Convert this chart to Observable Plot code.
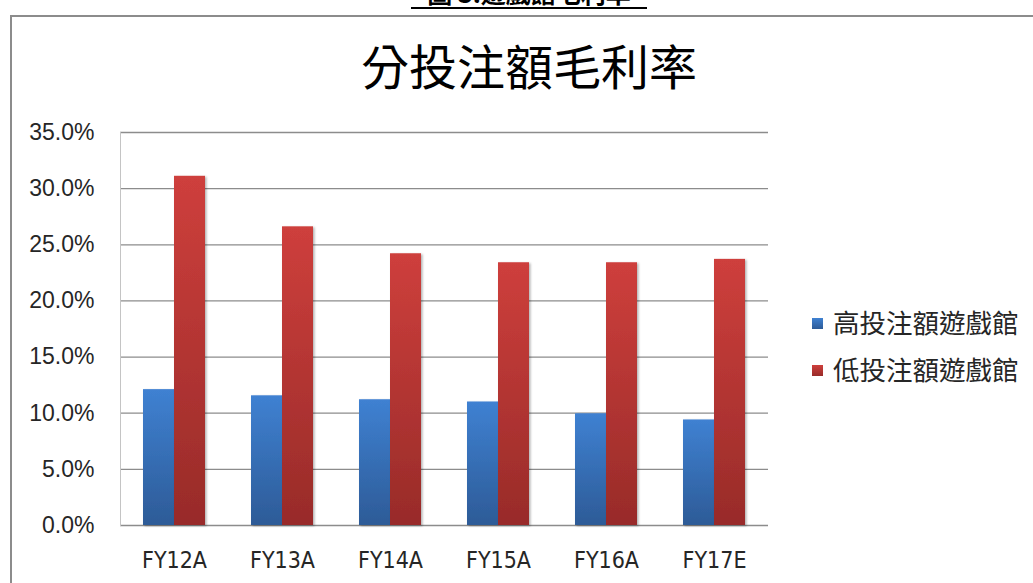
<!DOCTYPE html>
<html><head><meta charset="utf-8">
<script src="https://cdn.jsdelivr.net/npm/d3@7"></script>
<script src="https://cdn.jsdelivr.net/npm/@observablehq/plot@0.6"></script>
<style>
body{margin:0;background:#fff;}
#wrap{position:relative;width:1033px;height:583px;overflow:hidden;background:#fff;}
#hdr{position:absolute;left:411px;top:-20px;width:236px;height:27px;line-height:24px;font-size:25px;font-weight:bold;text-align:center;border-bottom:2px solid #000;font-family:"Noto Sans CJK TC",sans-serif;color:#000;white-space:nowrap;}
#frame{position:absolute;left:10px;top:15px;width:1100px;height:700px;border-top:2px solid #8c8c8c;border-left:2px solid #8c8c8c;}
#chart{position:absolute;left:0;top:0;}
#title{position:absolute;left:529px;top:40px;transform:translateX(-50%);font-family:"Noto Sans CJK TC",sans-serif;font-size:48px;line-height:1;color:#000;white-space:nowrap;}
.lg-sq{position:absolute;width:11px;height:11px;}
.lg-tx{position:absolute;font-family:"Noto Sans CJK TC",sans-serif;font-size:26.5px;line-height:1;color:#262626;white-space:nowrap;}
</style></head><body>
<div id="wrap">
 <div id="hdr">圖 3:遊戲館毛利率</div>
 <div id="frame"></div>
 <div id="chart"></div>
 <div id="title">分投注額毛利率</div>
 <div id="legend"></div>
</div>
<script>
const categories = ["FY12A","FY13A","FY14A","FY15A","FY16A","FY17E"];
const highValues = [0.121, 0.1155, 0.112, 0.110, 0.0995, 0.094];
const lowValues = [0.311, 0.266, 0.242, 0.234, 0.234, 0.237];
const seriesNames = ["高投注額遊戲館","低投注額遊戲館"];
const seriesColors = [["#3f81d2","#2d5b97"],["#ce3f3c","#982b29"]];
const yTicks = [0,0.05,0.10,0.15,0.20,0.25,0.30,0.35];

const data = categories.flatMap((c,i)=>[
  {category:c, series:seriesNames[0], value:highValues[i]},
  {category:c, series:seriesNames[1], value:lowValues[i]}
]);

const plot = Plot.plot({
  width:1033, height:583,
  marginLeft:120, marginRight:265, marginTop:132, marginBottom:58,
  style:{background:"transparent", fontFamily:"Liberation Sans, Arial, sans-serif", color:"#262626", overflow:"visible"},
  x:{domain:categories, paddingInner:0.426, paddingOuter:0.213, label:null},
  y:{domain:[0,0.35], label:null},
  color:{domain:seriesNames, range:["url(#gradHigh)","url(#gradLow)"]},
  marks:[
    Plot.ruleY(yTicks,{stroke:"#8c8c8c", strokeWidth:1.3}),
    Plot.frame({anchor:"left", stroke:"#c4c4c4"}),
    Plot.barY(data.filter(d=>d.series===seriesNames[0]), {x:"category", y:"value", fill:"series", insetRight:31}),
    Plot.barY(data.filter(d=>d.series===seriesNames[1]), {x:"category", y:"value", fill:"series", insetLeft:31}),
    Plot.axisY({ticks:yTicks, tickFormat:d3.format(".1%"), tickSize:0, tickPadding:26, fontSize:23, label:null, fill:"#262626"}),
    Plot.axisX({tickSize:0, tickPadding:26, fontSize:23, fontFamily:"Liberation Sans Narrow, DejaVu Sans Condensed, sans-serif", label:null, fill:"#262626"})
  ]
});

const svg = d3.select(plot);
const defs = svg.insert("defs", ":first-child");
[["gradHigh",seriesColors[0]],["gradLow",seriesColors[1]]].forEach(([id,[c1,c2]])=>{
  const g = defs.append("linearGradient").attr("id",id).attr("x1",0).attr("y1",0).attr("x2",0).attr("y2",1);
  g.append("stop").attr("offset","0%").attr("stop-color",c1);
  g.append("stop").attr("offset","100%").attr("stop-color",c2);
});
const f = defs.append("filter").attr("id","shadow").attr("x","-20%").attr("y","-5%").attr("width","150%").attr("height","115%");
f.append("feDropShadow").attr("dx",1.5).attr("dy",1).attr("stdDeviation",1.2).attr("flood-color","#000").attr("flood-opacity",0.3);
svg.selectAll("g[aria-label='bar']").attr("filter","url(#shadow)");

document.getElementById("chart").appendChild(plot);

const legend = document.getElementById("legend");
seriesNames.forEach((name,i)=>{
  const sq = document.createElement("div");
  sq.className = "lg-sq";
  sq.style.left = "812px";
  sq.style.top = (318 + i*47) + "px";
  sq.style.background = `linear-gradient(${seriesColors[i][0]}, ${seriesColors[i][1]})`;
  legend.appendChild(sq);
  const tx = document.createElement("div");
  tx.className = "lg-tx";
  tx.style.left = "833px";
  tx.style.top = (309 + i*47) + "px";
  tx.textContent = name;
  legend.appendChild(tx);
});
</script>
</body></html>
